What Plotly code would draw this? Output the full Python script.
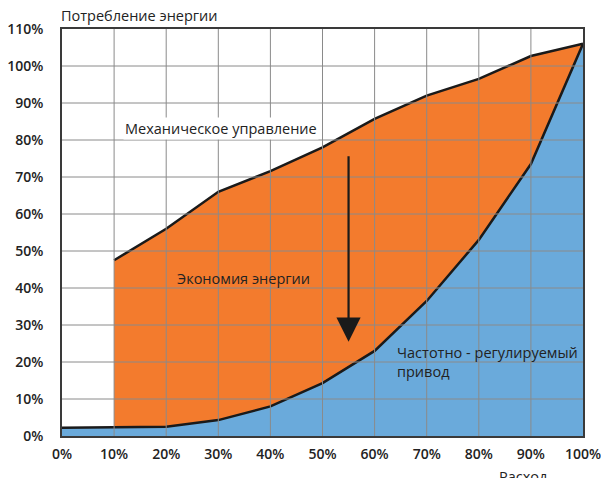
import plotly.graph_objects as go

flow = [0, 10, 20, 30, 40, 50, 60, 70, 80, 90, 100]
vfd_power = [2.2, 2.4, 2.5, 4.3, 8.0, 14.3, 23.0, 36.5, 53.0, 73.5, 106.0]
mech_flow = [10, 20, 30, 40, 50, 60, 70, 80, 90, 100]
mech_power = [47.5, 56.0, 66.0, 71.6, 78.0, 85.7, 92.0, 96.5, 102.7, 106.0]
x_ticks = [0, 10, 20, 30, 40, 50, 60, 70, 80, 90, 100]
y_ticks = [0, 10, 20, 30, 40, 50, 60, 70, 80, 90, 100, 110]
x_labels = [f"{v}%" for v in x_ticks]
y_labels = [f"{v}%" for v in y_ticks]

ORANGE = "#F37B2D"
BLUE = "#6AAADB"
GRID = "#8A8A8A"
FONT = "Open Sans"

# savings polygon: mechanical curve, then VFD curve back over the same flows
vfd_sub = [p for f, p in zip(flow, vfd_power) if f >= mech_flow[0]]
vfd_sub_x = [f for f in flow if f >= mech_flow[0]]
poly_x = mech_flow + vfd_sub_x[::-1]
poly_y = mech_power + vfd_sub[::-1]

fig = go.Figure()
fig.add_trace(go.Scatter(x=poly_x, y=poly_y, fill="toself", fillcolor=ORANGE,
                         mode="lines", line=dict(width=0, color=ORANGE),
                         hoverinfo="skip", showlegend=False))
fig.add_trace(go.Scatter(x=flow, y=vfd_power, fill="tozeroy", fillcolor=BLUE,
                         mode="lines", line=dict(color="#1a1a1a", width=2.5),
                         showlegend=False))
fig.add_trace(go.Scatter(x=mech_flow, y=mech_power, mode="lines",
                         line=dict(color="#1a1a1a", width=2.5), showlegend=False))

shapes = []
for xv in x_ticks[1:-1]:
    shapes.append(dict(type="line", xref="x", yref="y", x0=xv, x1=xv, y0=0, y1=110,
                       line=dict(color=GRID, width=1), layer="above"))
for yv in y_ticks[1:-1]:
    shapes.append(dict(type="line", xref="x", yref="y", x0=0, x1=100, y0=yv, y1=yv,
                       line=dict(color=GRID, width=1), layer="above"))
fig.update_layout(shapes=shapes)

txt = dict(family=FONT, size=14.5, color="#222222")
annotations = [
    dict(x=11.8, y=83, xref="x", yref="y", text="Механическое управление",
         showarrow=False, xanchor="left", yanchor="middle", font=txt,
         bgcolor="white", borderpad=1),
    dict(x=21.7, y=42.5, xref="x", yref="y", text="Экономия энергии",
         showarrow=False, xanchor="left", yanchor="middle", font=txt),
    dict(x=64.0, y=20.0, xref="x", yref="y",
         text="Частотно - регулируемый<br>привод", align="left",
         showarrow=False, xanchor="left", yanchor="middle", font=txt),
    dict(x=55, y=25.5, ax=55, ay=76, xref="x", yref="y", axref="x", ayref="y",
         text="", showarrow=True, arrowhead=2, arrowsize=2.2, arrowwidth=2.2,
         arrowcolor="#1a1a1a"),
    dict(x=0, y=1, xref="paper", yref="paper", text="Потребление энергии",
         showarrow=False, xanchor="left", yanchor="bottom", yshift=2, xshift=-3,
         font=txt),
    dict(x=88.5, y=0, xref="x", yref="paper", text="Расход",
         showarrow=False, xanchor="center", yanchor="top", yshift=-29, font=txt),
]
fig.update_layout(annotations=annotations)

tickfont = dict(family=FONT, size=14, color="#222222", weight=600)
fig.update_xaxes(range=[0, 100], tickvals=x_ticks, ticktext=x_labels, showgrid=False,
                 zeroline=False, showline=True, linecolor="#3a3a3a", linewidth=1.5,
                 mirror=True, ticks="", tickfont=tickfont, ticklabelstandoff=4,
                 ticklabeloverflow="allow", layer="above traces", automargin=False)
fig.update_yaxes(range=[0, 110], tickvals=y_ticks, ticktext=y_labels, showgrid=False,
                 zeroline=False, showline=True, linecolor="#3a3a3a", linewidth=1.5,
                 mirror=True, ticks="", tickfont=tickfont, ticklabelstandoff=14,
                 ticklabeloverflow="allow", layer="above traces", automargin=False)
fig.update_layout(width=601, height=478, plot_bgcolor="white", paper_bgcolor="white",
                  margin=dict(l=62, r=18, t=29, b=42), showlegend=False,
                  font=dict(family=FONT))
fig.write_html("out.html", config={"displayModeBar": False},
               post_script="document.body.style.margin='0';document.body.style.padding='0';")
